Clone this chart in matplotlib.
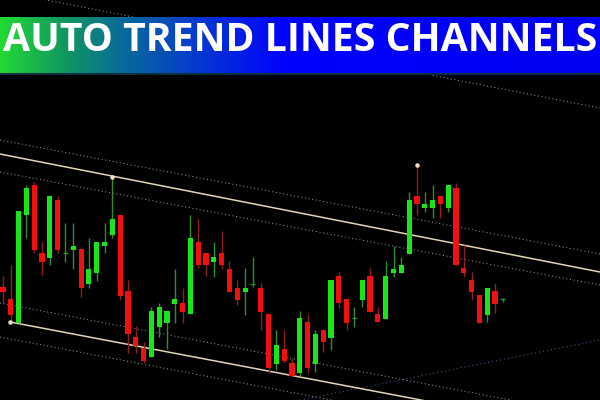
"""Auto trend lines / channels candlestick chart with gradient banner."""

import numpy as np
import matplotlib
matplotlib.use("Agg")
import matplotlib.pyplot as plt
from matplotlib.colors import LinearSegmentedColormap

# candle data (price units)
opens = [113, 101, 77, 185, 215, 147, 142, 200, 147, 150, 151, 116, 127, 154, 165,
         185, 109, 63, 52, 43, 73, 77, 96, 97, 86, 158, 147, 138, 147, 131,
         112, 108, 116, 112, 86, 36, 51, 37, 27, 78, 36, 70, 62, 124, 101,
         82, 100, 124, 86, 81, 127, 127, 146, 204, 192, 192, 204, 192, 212, 132,
         120, 105, 85, 109, 101]
highs = [124, 135, 189, 215, 218, 158, 205, 204, 177, 177, 153, 162, 158, 177, 223,
         185, 120, 74, 58, 93, 97, 89, 131, 112, 185, 181, 147, 158, 169, 139,
         120, 132, 143, 117, 86, 70, 70, 42, 89, 86, 70, 70, 120, 128, 101,
         93, 120, 132, 93, 139, 154, 143, 208, 235, 208, 215, 204, 215, 217, 155,
         128, 105, 112, 117, 102]
lows = [97, 78, 77, 162, 147, 125, 135, 147, 138, 131, 103, 112, 119, 147, 162,
        100, 47, 47, 37, 43, 63, 51, 77, 77, 86, 132, 124, 123, 131, 108,
        95, 85, 113, 70, 27, 30, 37, 23, 24, 27, 28, 48, 50, 92, 70,
        73, 93, 88, 78, 81, 123, 127, 146, 185, 188, 182, 182, 188, 135, 123,
        100, 77, 78, 87, 98]
closes = [108, 85, 189, 212, 150, 138, 204, 150, 148, 154, 112, 131, 158, 158, 181,
          104, 66, 54, 39, 89, 93, 89, 101, 88, 162, 135, 135, 143, 135, 108,
          100, 112, 116, 88, 32, 55, 39, 24, 82, 32, 66, 58, 120, 97, 77,
          82, 120, 88, 78, 124, 131, 135, 200, 196, 196, 200, 196, 215, 135, 127,
          108, 77, 112, 96, 101]

# trend lines: (x0, p0, x1, p1) in candle index / price
solid_lines = [(-0.38, 246, 76.44, 128),    # upper channel
               (0.9, 78, 76.44, -34)]       # lower channel
dotted_lines = [(-0.38, 260, 76.44, 146),
                (-0.38, 228, 76.44, 115),
                (-0.38, 97, 76.44, -17),
                (-0.38, 63, 76.44, -51),
                (-0.38, 409, 76.44, 292)]
rising_line = (38.0, 0, 76.44, 60)
pivot_x = [0.9, 13.96, 53.0]
pivot_p = [78, 223, 235]

title = "AUTO TREND LINES CHANNELS"

BULL, BEAR = "#19e619", "#f01010"
BULL_WICK, BEAR_WICK = "#2f8f2f", "#8f1f1f"

fig = plt.figure(figsize=(6, 4), dpi=100, facecolor="black")
ax = fig.add_axes([0, 0, 1, 1])
ax.set_facecolor("black")
ax.set_xlim(-0.384, 76.44)
ax.set_ylim(0, 400)
ax.axis("off")

for x0, p0, x1, p1 in dotted_lines:
    ax.plot([x0, x1], [p0, p1], color="#a8a8a8", lw=0.7,
            linestyle=(0, (1, 2.8)), zorder=1)
x0, p0, x1, p1 = rising_line
ax.plot([x0, x1], [p0, p1], color="#4a5080", lw=0.8,
        linestyle=(0, (1, 2.6)), zorder=1)
for x0, p0, x1, p1 in solid_lines:
    ax.plot([x0, x1], [p0, p1], color="#e2d4b8", lw=1.1, zorder=1)

idx = np.arange(len(opens))
for i, o, h, l, c in zip(idx, opens, highs, lows, closes):
    up = c >= o
    ax.vlines(i, l, h, color=BULL_WICK if up else BEAR_WICK, lw=1.0, zorder=2)
    bottom, height = min(o, c), abs(c - o)
    if height < 1.5:
        ax.hlines((o + c) / 2, i - 0.32, i + 0.32,
                  color=BULL_WICK if up else BEAR_WICK, lw=1.0, zorder=3)
    else:
        ax.bar(i, height, bottom=bottom, width=0.66,
               color=BULL if up else BEAR, lw=0, zorder=3)

ax.scatter(pivot_x, pivot_p, s=5, color="#f0e0c0", zorder=4)

# gradient banner
bax = fig.add_axes([0, 1 - 75 / 400, 1, 58 / 400])
cmap = LinearSegmentedColormap.from_list("banner", [
    (0.00, "#22d835"), (0.10, "#119a5e"), (0.20, "#086c98"),
    (0.33, "#0538d0"), (0.48, "#0000ff"), (1.00, "#0000f2")])
bax.imshow(np.linspace(0, 1, 300)[None, :], cmap=cmap, aspect="auto",
           extent=[0, 1, 0, 1])
bax.set_xlim(0, 1)
bax.set_ylim(0, 1)
bax.axis("off")
bax.axhline(0.01, color="#0a3040", lw=1.5)

txt = bax.text(0.5, 0.60, title, ha="center", va="center", color="white",
               fontsize=30, fontweight="bold", family="Open Sans")
fig.canvas.draw()
w = txt.get_window_extent().width
txt.set_fontsize(30 * 594 / w)

fig.savefig("out.png", dpi=100, facecolor="black")
